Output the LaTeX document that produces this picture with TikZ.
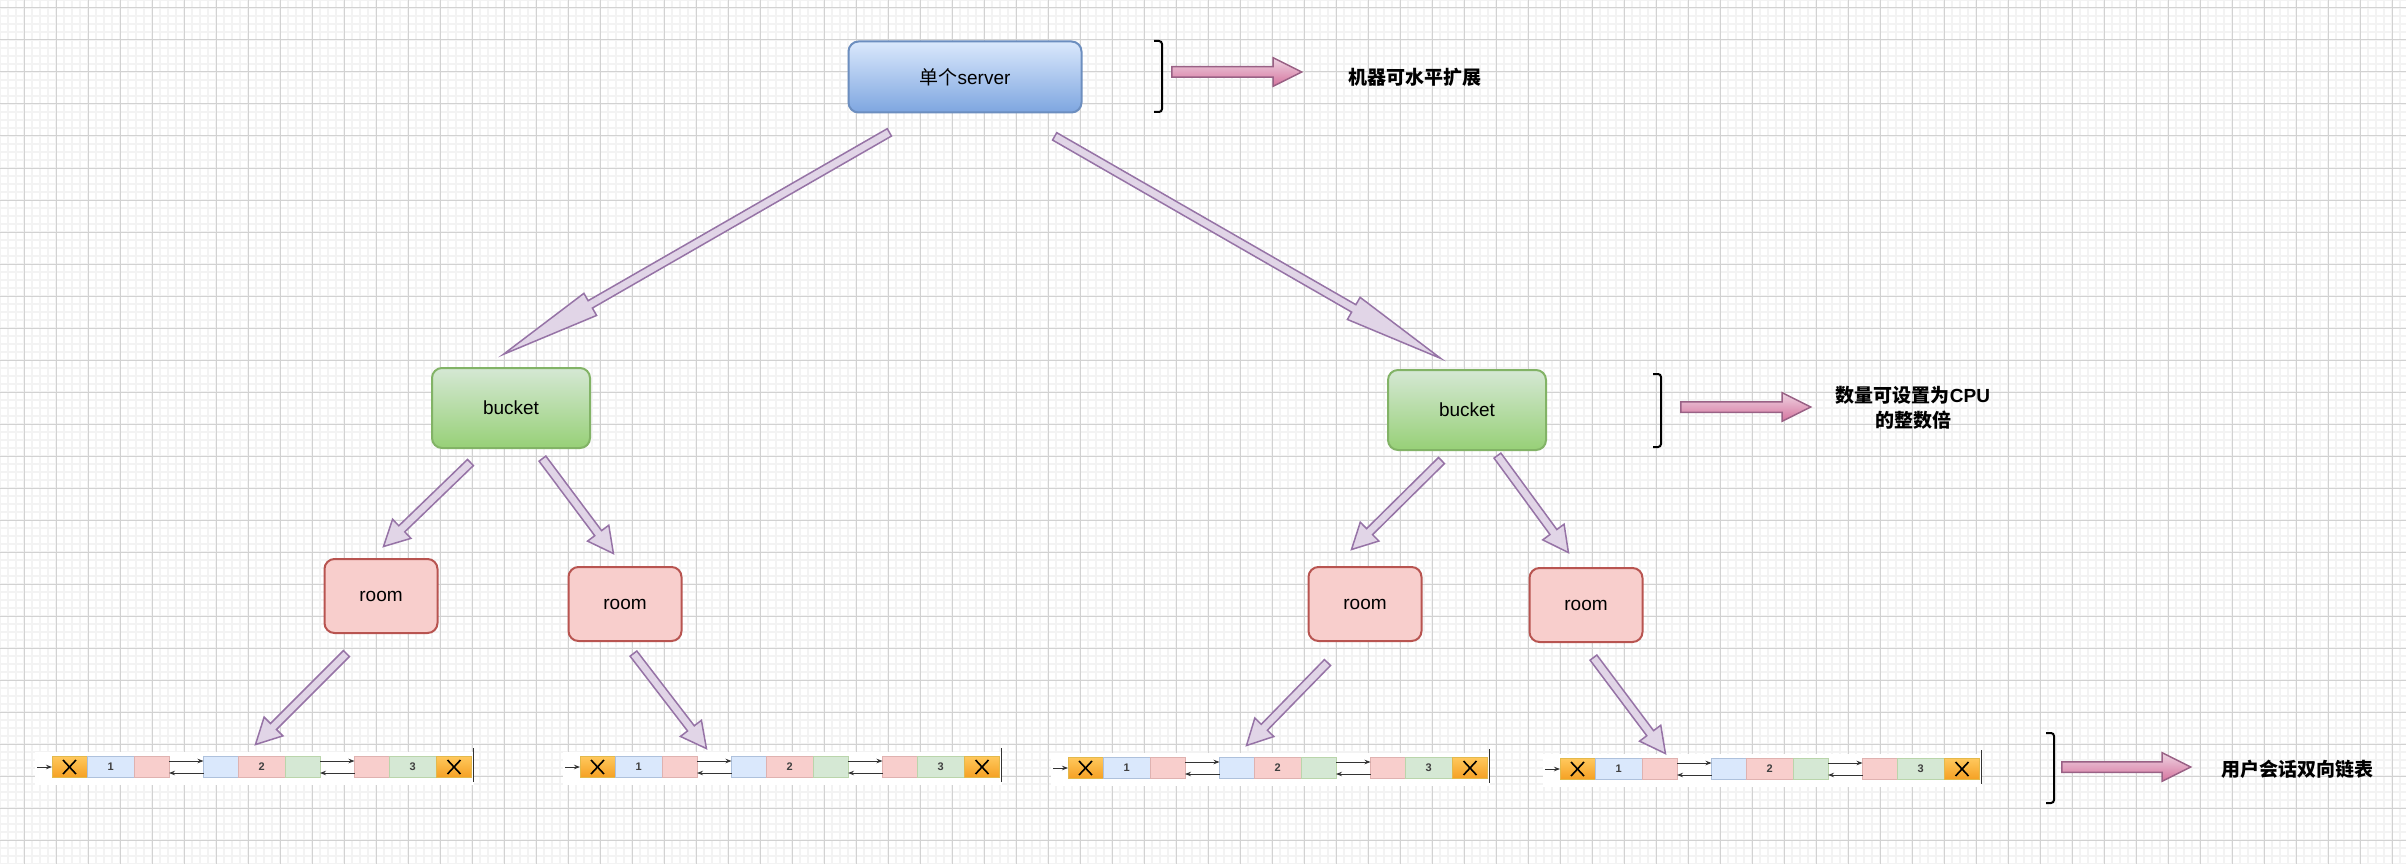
\documentclass[tikz,border=0pt]{standalone}
\usepackage{fontspec}
\setmainfont{Liberation Sans}
\newfontfamily\cjk{Noto Sans CJK SC}
\usepackage{tikz}
\usetikzlibrary{positioning, arrows.meta, shapes.arrows, calc}

\definecolor{gridmajor}{HTML}{D2D2D2}
\definecolor{gridminor}{HTML}{F3F3F3}
\definecolor{serverline}{HTML}{6C8EBF}
\definecolor{servertop}{HTML}{DAE8FC}
\definecolor{serverbottom}{HTML}{7EA6E0}
\definecolor{bucketline}{HTML}{82B366}
\definecolor{buckettop}{HTML}{D5E8D4}
\definecolor{bucketbottom}{HTML}{97D077}
\definecolor{roomline}{HTML}{B85450}
\definecolor{roomfill}{HTML}{F8CECC}
\definecolor{arrowline}{HTML}{9673A6}
\definecolor{arrowfill}{HTML}{E1D5E7}
\definecolor{pinkline}{HTML}{996185}
\definecolor{pinktop}{HTML}{EED3E2}
\definecolor{pinkbottom}{HTML}{D5739D}
\definecolor{xtop}{HTML}{FFC85C}
\definecolor{xbottom}{HTML}{F5A023}
\definecolor{xline}{HTML}{D79B00}
\definecolor{cellblue}{HTML}{DAE8FC}
\definecolor{cellpink}{HTML}{F8CECC}
\definecolor{cellgreen}{HTML}{D5E8D4}

% block arrow between two named points
\newcommand{\blockarrow}[3]{%
  \path let \p1=($(#3)-(#2)$), \n1={atan2(\y1,\x1)}, \n2={veclen(\x1,\y1)} in
    node[#1, anchor=tail, rotate=\n1, minimum height=\n2] at (#2) {};%
}

% one session list
\newcommand{\userlist}[2]{%
  \fill[white] ($(#2)+(-17,-15)$) rectangle ($(#2)+(422,18)$);
  \node[endcell, anchor=west] (#1x) at (#2) {};
  \node[bigcell, bluecell, right=0pt of #1x] (#1a) {1};
  \node[smallcell, pinkcell, right=0pt of #1a] (#1b) {};
  \node[smallcell, bluecell, right=34.5pt of #1b] (#1c) {};
  \node[bigcell, pinkcell, right=0pt of #1c] (#1d) {2};
  \node[smallcell, greencell, right=0pt of #1d] (#1e) {};
  \node[smallcell, pinkcell, right=34.5pt of #1e] (#1f) {};
  \node[bigcell, greencell, right=0pt of #1f] (#1g) {3};
  \node[endcell, right=0pt of #1g] (#1y) {};
  \foreach \n in {x,y}
    \draw[cross] ([xshift=-6.5pt,yshift=7pt]#1\n.center) -- ([xshift=6.5pt,yshift=-7pt]#1\n.center)
                 ([xshift=-6.5pt,yshift=-7pt]#1\n.center) -- ([xshift=6.5pt,yshift=7pt]#1\n.center);
  \draw[link, ->] ([xshift=-15pt]#1x.west) -- (#1x.west);
  \draw[link, ->] ([yshift=6pt]#1b.east) -- ([yshift=6pt]#1c.west);
  \draw[link, <-] ([yshift=-6pt]#1b.east) -- ([yshift=-6pt]#1c.west);
  \draw[link, ->] ([yshift=6pt]#1e.east) -- ([yshift=6pt]#1f.west);
  \draw[link, <-] ([yshift=-6pt]#1e.east) -- ([yshift=-6pt]#1f.west);
  \draw[bar] ([xshift=2pt,yshift=19pt]#1y.east) -- ([xshift=2pt,yshift=-15pt]#1y.east);
}

\begin{document}
\begin{tikzpicture}[
    x=1pt, y=-1pt,
    >={Stealth[length=6pt, width=4.5pt]},
    font=\fontsize{19}{23}\selectfont,
    server/.style={draw=serverline, line width=2pt, rounded corners=10pt,
        top color=servertop, bottom color=serverbottom,
        minimum width=233pt, minimum height=71pt},
    bucket/.style={draw=bucketline, line width=2pt, rounded corners=10pt,
        top color=buckettop, bottom color=bucketbottom,
        minimum width=158pt, minimum height=80pt},
    room/.style={draw=roomline, fill=roomfill, line width=2pt, rounded corners=10pt,
        minimum width=113pt, minimum height=74pt},
    fatbig/.style={single arrow, draw=arrowline, fill=arrowfill, line width=1.5pt,
        inner xsep=0pt, inner ysep=3.5pt, minimum width=24pt,
        single arrow head extend=8.5pt, single arrow tip angle=14.5},
    fatsmall/.style={single arrow, draw=arrowline, fill=arrowfill, line width=1.5pt,
        inner xsep=0pt, inner ysep=3.5pt, minimum width=25pt,
        single arrow head extend=9pt, single arrow tip angle=55},
    pinkarrow/.style={single arrow, draw=pinkline, top color=pinktop, bottom color=pinkbottom,
        line width=1.5pt, inner xsep=0pt, inner ysep=4.5pt, minimum width=27pt,
        single arrow head extend=9pt, single arrow tip angle=53},
    brace/.style={line width=2pt, rounded corners=3pt},
    note/.style={font=\fontsize{19}{25}\selectfont\bfseries, align=center},
    cell/.style={line width=0.8pt, minimum height=21pt, inner sep=0pt, outer sep=0pt,
        font=\fontsize{11}{11}\selectfont\bfseries, text=black!75},
    bigcell/.style={cell, minimum width=47.5pt},
    smallcell/.style={cell, minimum width=34.5pt},
    endcell/.style={cell, draw=xline!70, top color=xtop, bottom color=xbottom, minimum width=35pt},
    bluecell/.style={draw=serverline!55, fill=cellblue},
    pinkcell/.style={draw=roomline!45, fill=cellpink},
    greencell/.style={draw=bucketline!55, fill=cellgreen},
    cross/.style={line width=1.6pt, black},
    link/.style={line width=0.8pt, black!80},
    bar/.style={line width=1pt, black!80}
]
\useasboundingbox (0,0) rectangle (2406,864);

% grid
\fill[white] (0,0) rectangle (2406,864);
\foreach \x in {0,8,...,2406} \draw[gridminor, line width=1.5pt] (\x,0) -- (\x,864);
\foreach \y in {0,8,...,864} \draw[gridminor, line width=1.5pt] (0,\y) -- (2406,\y);
\foreach \x in {24,56,...,2406} \draw[gridmajor, line width=1pt] (\x,0) -- (\x,864);
\foreach \y in {8,40,...,864} \draw[gridmajor, line width=1pt] (0,\y) -- (2406,\y);

% nodes
\node[server] (server) at (965,77) {{\cjk 单个}server};
\node[bucket] (bucketl) at (511,408) {bucket};
\node[bucket] (bucketr) at (1467,410) {bucket};
\node[room] (room1) at (381,596) {room};
\node[room] (room2) at (625,604) {room};
\node[room] (room3) at (1365,604) {room};
\node[room] (room4) at (1586,605) {room};

% lists
\userlist{la}{52,767}
\userlist{lb}{580,767}
\userlist{lc}{1068,768}
\userlist{ld}{1560,769}

% arrow ends
\coordinate (s1) at (890,132);  \coordinate (b1) at (504,354);
\coordinate (s2) at (1054,136); \coordinate (b2) at (1440,358);
\coordinate (r1) at (471,462);  \coordinate (t1) at (384,546);
\coordinate (r2) at (542,458);  \coordinate (t2) at (613,553);
\coordinate (r3) at (1442,460); \coordinate (t3) at (1352,549);
\coordinate (r4) at (1497,455); \coordinate (t4) at (1568,552);
\coordinate (u1) at (347,653);  \coordinate (v1) at (256,744);
\coordinate (u2) at (633,653);  \coordinate (v2) at (706,748);
\coordinate (u3) at (1328,662); \coordinate (v3) at (1247,745);
\coordinate (u4) at (1593,657); \coordinate (v4) at (1665,753);

% arrows
\blockarrow{fatbig}{s1}{b1}
\blockarrow{fatbig}{s2}{b2}
\blockarrow{fatsmall}{r1}{t1}
\blockarrow{fatsmall}{r2}{t2}
\blockarrow{fatsmall}{r3}{t3}
\blockarrow{fatsmall}{r4}{t4}
\blockarrow{fatsmall}{u1}{v1}
\blockarrow{fatsmall}{u2}{v2}
\blockarrow{fatsmall}{u3}{v3}
\blockarrow{fatsmall}{u4}{v4}

% notes
\draw[brace] (1154,41) -- (1162,41) -- (1162,112) -- (1154,112);
\coordinate (k1) at (1171,72); \coordinate (e1) at (1301,72);
\blockarrow{pinkarrow}{k1}{e1}
\node[note] (note1) at (1415,77) {\cjk 机器可水平扩展};

\draw[brace] (1653,374) -- (1661,374) -- (1661,447) -- (1653,447);
\coordinate (k2) at (1680,407); \coordinate (e2) at (1810,407);
\blockarrow{pinkarrow}{k2}{e2}
\node[note] (note2) at (1913,408) {{\cjk 数量可设置为}CPU\\{\cjk 的整数倍}};

\draw[brace] (2046,733) -- (2054,733) -- (2054,803) -- (2046,803);
\coordinate (k3) at (2061,767); \coordinate (e3) at (2190,767);
\blockarrow{pinkarrow}{k3}{e3}
\node[note] (note3) at (2297,769) {\cjk 用户会话双向链表};

\end{tikzpicture}
\end{document}
